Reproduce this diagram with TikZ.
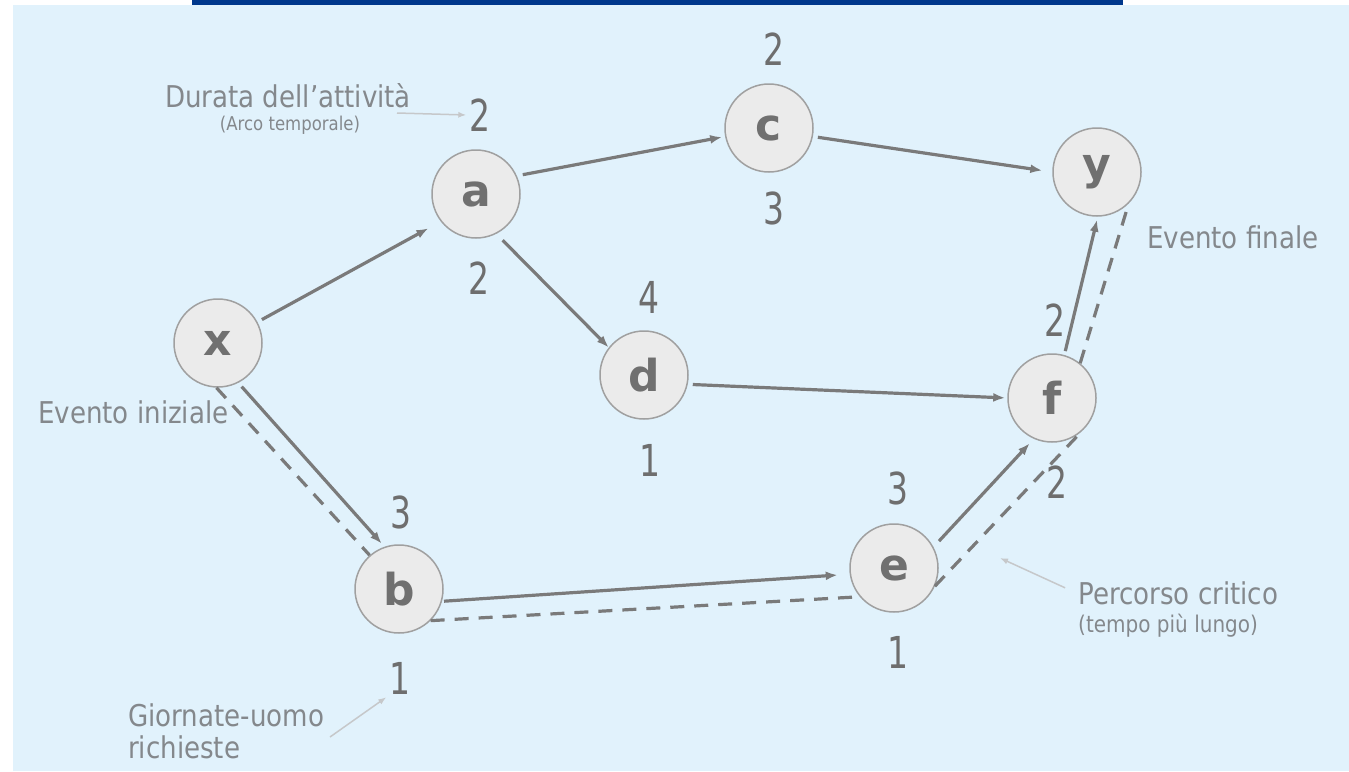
\documentclass[tikz,border=0pt]{standalone}
\usepackage{fontspec}
\setmainfont{DejaVu Sans}
\newfontfamily\cifre[FakeStretch=0.75]{DejaVu Sans}
\newfontfamily\stretto[FakeStretch=0.87]{DejaVu Sans}
\usetikzlibrary{
  arrows.meta,
}

\definecolor{sfondo}{RGB}{225,242,252}
\definecolor{barra}{RGB}{0,56,140}
\definecolor{disco}{RGB}{235,235,235}
\definecolor{bordo}{RGB}{160,160,160}
\definecolor{lettera}{RGB}{112,112,112}
\definecolor{linea}{RGB}{122,122,122}
\definecolor{cifra}{RGB}{110,110,110}
\definecolor{testo}{RGB}{132,136,140}
\definecolor{freccina}{RGB}{198,200,202}

\tikzset{
  evento/.style={
    circle, draw=bordo, line width=1.5pt, fill=disco,
    minimum size=88pt, inner sep=0pt,
    text=lettera, font=\fontsize{44}{44}\selectfont\bfseries,
  },
  durata/.style={
    inner sep=3pt, text=cifra, font=\cifre\fontsize{44}{44}\selectfont,
  },
  arco/.style={
    draw=linea, line width=3.2pt, -{Latex[length=12pt,width=9pt]},
    shorten <=5pt, shorten >=3pt,
  },
  critico/.style={
    draw=linea, line width=3.2pt, dash pattern=on 14pt off 10pt,
  },
  nota/.style={
    inner sep=2pt, text=testo, font=\stretto\fontsize{30}{30}\selectfont,
  },
  richiamo/.style={
    draw=freccina, line width=1.5pt, -{Latex[length=8pt,width=6pt]},
  },
}

\begin{document}
\begin{tikzpicture}[x=1pt, y=-1pt]
\useasboundingbox (0,0) rectangle (1349,771);
\fill[sfondo] (13,5) rectangle (1349,771);
\fill[barra] (192,0) rectangle (1123,5);

% eventi
\foreach \nome/\px/\py in {x/218/343, a/476/194, c/769/128, y/1097/172,
    d/644/375, f/1052/398, b/399/589, e/894/568}
  \node[evento] (\nome) at (\px,\py) {\nome};

% durate (sopra) e giornate-uomo (sotto)
\foreach \nome/\px/\py/\val in {a su/480/115/2, a giu/479/278/2,
    c su/774/49/2, c giu/774/208/3, d su/649/297/4, d giu/650/460/1,
    b su/401/512/3, b giu/400/678/1, e su/898/488/3, e giu/898/652/1,
    f su/1055/320/2, f giu/1057/482/2}
  \node[durata] (\nome) at (\px,\py) {\val};

% attivita
\draw[arco, shorten >=14pt] (x.28) -- (a.218);
\draw[arco, shorten >=4pt] (x.-63) -- (b.109);
\draw[arco, shorten <=6pt] (a.24) -- (c.191);
\draw[arco, shorten <=9pt, shorten >=0pt] (a.-63) -- (d.142);
\draw[arco, shorten >=10pt] (c.-11) -- (y.180);
\draw[arco, shorten >=2pt] (d.-12) -- (f.180);
\draw[arco, shorten <=2pt, shorten >=12pt] (b.-16) -- (e.188);
\draw[arco, shorten <=8pt, shorten >=6pt] (e.28) -- (f.246);
\draw[arco, shorten <=4pt] (f.74) -- (y.-89);

% percorso critico
\draw[critico] (x.-92) -- (b.131) (b.-45) -- (e.-140)
  (e.-24) -- (f.-49) (f.51) -- (y.-45);

% note
\node[nota, anchor=base] (durata) at (288,107) {Durata dell’attività};
\node[nota, anchor=base, font=\stretto\fontsize{19}{19}\selectfont] (arco temporale) at (290,130) {(Arco temporale)};
\node[nota, anchor=base west] (iniziale) at (36,423) {Evento iniziale};
\node[nota, anchor=base west] (finale) at (1145,248) {Evento finale};
\node[nota, anchor=base west] (percorso) at (1076,604) {Percorso critico};
\node[nota, anchor=base west, font=\stretto\fontsize{23}{23}\selectfont] (tempo) at (1076,632) {(tempo più lungo)};
\node[nota, anchor=base west] (giornate) at (126,726) {Giornate-uomo};
\node[nota, anchor=base west] (richieste) at (126,758) {richieste};

\coordinate (durata coda) at (397,113);
\coordinate (giornate coda) at (330,737);
\coordinate (critico punta) at (1000,558);
\draw[richiamo] (durata coda) -- (a su.west);
\draw[richiamo] (giornate coda) -- (b giu.south west);
\draw[richiamo, shorten <=12pt] (percorso.west) -- (critico punta);
\end{tikzpicture}
\end{document}
